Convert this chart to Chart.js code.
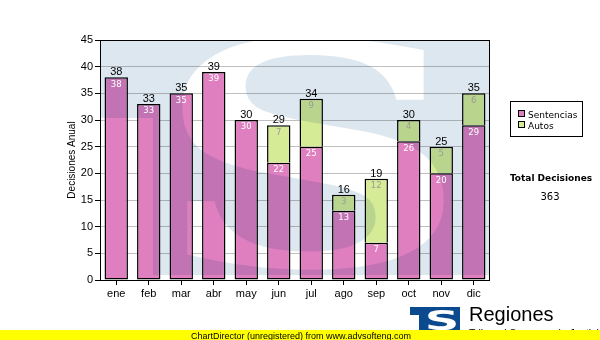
<!DOCTYPE html>
<html>
<head>
<meta charset="utf-8">
<script src="https://cdn.jsdelivr.net/npm/chart.js@4/dist/chart.umd.min.js"></script>
<style>
  body { margin: 0; background: #fff; }
  canvas { display: block; }
</style>
</head>
<body>
<canvas id="grafico" width="600" height="340"></canvas>
<script>
// Decisiones por mes
const meses = ['ene', 'feb', 'mar', 'abr', 'may', 'jun', 'jul', 'ago', 'sep', 'oct', 'nov', 'dic'];
const sentencias = [38, 33, 35, 39, 30, 22, 25, 13, 7, 26, 20, 29];
const autos = [0, 0, 0, 0, 0, 7, 9, 3, 12, 4, 5, 6];
const series = ['Sentencias', 'Autos'];
const ejeY = { min: 0, max: 45, paso: 5 };

const colores = ['#e07fbf', '#d6eb96'];
const coloresTexto = ['#ffffff', '#9a9a9a'];
const totales = meses.map((m, i) => sentencias[i] + autos[i]);
const totalGeneral = totales.reduce((a, b) => a + b, 0);

// Ajusta un glifo a una caja (marca de agua del logo)
function glifoEnCaja(c, ch, font, x0, y0, x1, y1) {
    c.save();
    c.font = font;
    const m = c.measureText(ch);
    const w = m.actualBoundingBoxLeft + m.actualBoundingBoxRight;
    const h = m.actualBoundingBoxAscent + m.actualBoundingBoxDescent;
    c.translate(x0, y0);
    c.scale((x1 - x0) / w, (y1 - y0) / h);
    c.fillText(ch, m.actualBoundingBoxLeft, m.actualBoundingBoxAscent);
    c.restore();
}

function marcaDeAgua(chart) {
    const { ctx, chartArea: a } = chart;
    const off = document.createElement('canvas');
    off.width = chart.width;
    off.height = chart.height;
    const o = off.getContext('2d');
    o.fillStyle = '#dde7f0';
    o.fillRect(a.left, a.top, a.right - a.left, 78);
    o.fillRect(a.left + 53, a.top, a.right - a.left - 53, 235);
    o.globalCompositeOperation = 'destination-out';
    glifoEnCaja(o, 'S', 'bold 200px "DejaVu Serif"', a.left + 82, a.top - 4, a.left + 345, a.top + 230);

    ctx.save();
    ctx.beginPath();
    ctx.rect(a.left, a.top, a.right - a.left, a.bottom - a.top);
    ctx.clip();
    ctx.globalCompositeOperation = 'multiply';
    ctx.drawImage(off, 0, 0);
    ctx.restore();
}

function logo(ctx) {
    ctx.save();
    ctx.fillStyle = '#0b4a8e';
    ctx.fillRect(410, 307, 50, 8);
    ctx.fillRect(419, 307, 6, 23);
    ctx.fillRect(425, 307, 35, 23);
    ctx.fillStyle = '#ffffff';
    glifoEnCaja(ctx, 'S', 'bold 60px "DejaVu Sans"', 428, 309, 456, 330);
    ctx.fillStyle = '#000';
    ctx.font = '20px "Liberation Sans"';
    ctx.textAlign = 'left';
    ctx.textBaseline = 'alphabetic';
    ctx.fillText('Regiones', 469, 321);
    ctx.font = '10.5px "Liberation Sans"';
    ctx.fillText('Tribunal Supremo de Justicia', 469, 337);
    ctx.restore();
}

const decoracion = {
    id: 'decoracion',
    afterDatasetsDraw(chart) {
        const { ctx, chartArea: a } = chart;
        marcaDeAgua(chart);

        // marco del área de trazado
        ctx.save();
        ctx.strokeStyle = '#000';
        ctx.lineWidth = 1;
        ctx.strokeRect(a.left + 0.5, a.top + 0.5, a.right - a.left - 1, a.bottom - a.top);
        ctx.restore();

        // valores dentro de cada segmento
        ctx.save();
        ctx.textAlign = 'center';
        ctx.textBaseline = 'top';
        ctx.font = '8.5px "DejaVu Sans"';
        chart.data.datasets.forEach((ds, d) => {
            chart.getDatasetMeta(d).data.forEach((bar, i) => {
                const v = ds.data[i];
                if (!v) return;
                ctx.fillStyle = coloresTexto[d];
                ctx.fillText(String(v), bar.x, bar.y + 3);
            });
        });

        // totales sobre cada barra
        ctx.font = '11px "Liberation Sans"';
        ctx.fillStyle = '#000';
        ctx.textBaseline = 'alphabetic';
        const yScale = chart.scales.y;
        const xScale = chart.scales.x;
        totales.forEach((t, i) => {
            ctx.fillText(String(t), xScale.getPixelForValue(i), yScale.getPixelForValue(t) - 2);
        });
        ctx.restore();
    },
    afterDraw(chart) {
        const { ctx, chartArea: a } = chart;
        ctx.save();

        // título del eje Y
        ctx.font = '10px "Liberation Sans"';
        ctx.fillStyle = '#000';
        ctx.textAlign = 'center';
        ctx.textBaseline = 'middle';
        ctx.translate(72, (a.top + a.bottom) / 2);
        ctx.rotate(-Math.PI / 2);
        ctx.fillText('Decisiones Anual', 0, 0);
        ctx.setTransform(1, 0, 0, 1, 0, 0);

        // leyenda
        ctx.fillStyle = '#fff';
        ctx.fillRect(510.5, 101.5, 72, 35);
        ctx.strokeStyle = '#000';
        ctx.lineWidth = 1;
        ctx.strokeRect(510.5, 101.5, 72, 35);
        ctx.font = '9px "DejaVu Sans"';
        ctx.textAlign = 'left';
        ctx.textBaseline = 'alphabetic';
        series.forEach((s, k) => {
            const y = 110.5 + k * 11;
            ctx.fillStyle = colores[k];
            ctx.fillRect(518.5, y, 6, 6);
            ctx.strokeRect(518.5, y, 6, 6);
            ctx.fillStyle = '#000';
            ctx.fillText(s, 528, y + 7);
        });

        // total general
        ctx.textAlign = 'center';
        ctx.font = 'bold 9px "DejaVu Sans"';
        ctx.fillText('Total Decisiones', 551, 181);
        ctx.font = '10px "DejaVu Sans"';
        ctx.fillText(String(totalGeneral), 550, 200);

        logo(ctx);

        // franja inferior
        ctx.fillStyle = '#ffff00';
        ctx.fillRect(0, 330, 600, 10);
        ctx.fillStyle = '#000';
        ctx.textAlign = 'left';
        ctx.font = '9px "Liberation Sans"';
        ctx.fillText('ChartDirector (unregistered) from www.advsofteng.com', 191, 338.5);
        ctx.restore();
    }
};

const fuenteEje = { family: 'Liberation Sans', size: 11 };

new Chart(document.getElementById('grafico'), {
    type: 'bar',
    data: {
        labels: meses,
        datasets: [
            {
                label: series[0],
                data: sentencias,
                backgroundColor: colores[0],
                borderColor: '#000',
                borderWidth: 1.5,
                borderSkipped: false
            },
            {
                label: series[1],
                data: autos.map(v => v || null),
                backgroundColor: colores[1],
                borderColor: '#000',
                borderWidth: 1.5,
                borderSkipped: 'bottom'
            }
        ]
    },
    options: {
        responsive: false,
        animation: false,
        devicePixelRatio: 1,
        layout: { padding: { top: 40, right: 110, left: 0, bottom: 0 } },
        plugins: { legend: { display: false }, tooltip: { enabled: false } },
        datasets: { bar: { categoryPercentage: 1, barPercentage: 0.72 } },
        scales: {
            x: {
                stacked: true,
                border: { display: false },
                grid: { drawOnChartArea: false, offset: false, tickLength: 5, color: '#000' },
                ticks: { font: fuenteEje, color: '#000', padding: 2 },
                afterFit: s => { s.height = 60; }
            },
            y: {
                stacked: true,
                min: ejeY.min,
                max: ejeY.max,
                border: { display: false },
                grid: { color: '#c0c0c0', tickColor: '#000', tickLength: 5 },
                ticks: { stepSize: ejeY.paso, font: fuenteEje, color: '#000', padding: 2 },
                afterFit: s => { s.width = 100; }
            }
        }
    },
    plugins: [decoracion]
});
</script>
</body>
</html>
